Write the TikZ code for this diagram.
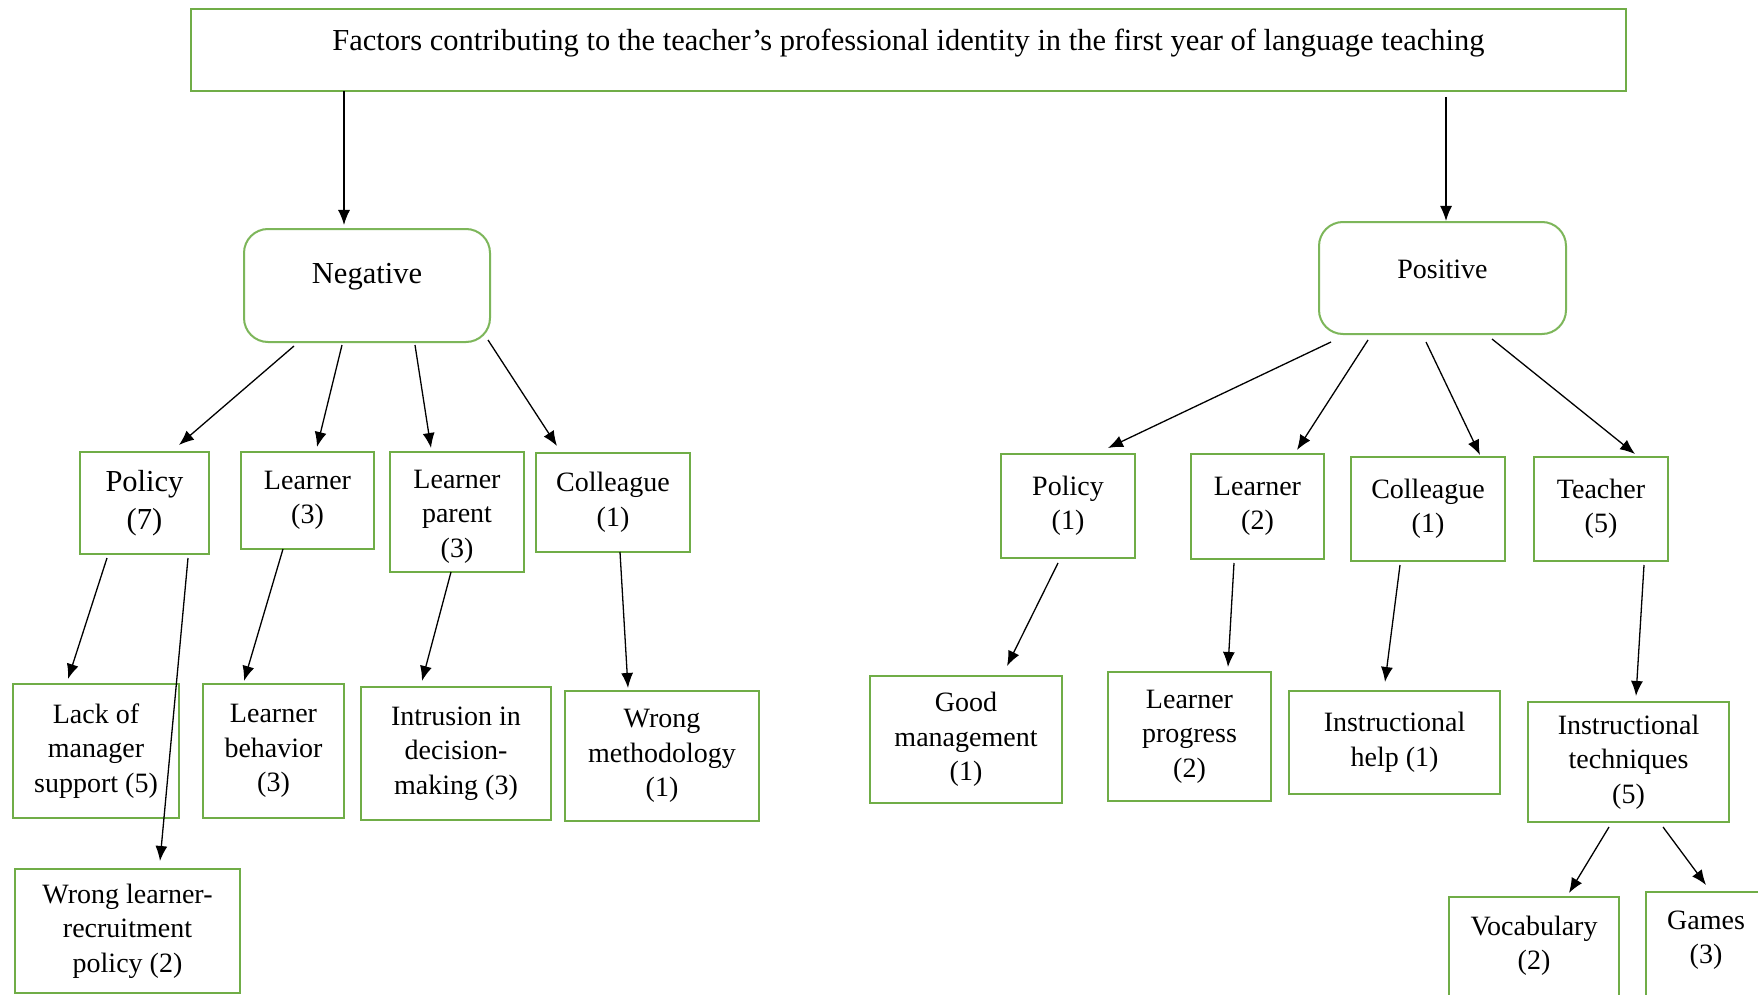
\documentclass[tikz,border=0pt]{standalone}
\usepackage{fontspec}
\setmainfont{Liberation Serif}
\usetikzlibrary{arrows.meta,calc}
\definecolor{boxgreen}{RGB}{112,173,71}
\definecolor{roundgreen}{RGB}{125,182,90}
\newcommand\fsn{\fontsize{28}{34.5}\selectfont}
\newcommand\fsb{\fontsize{30.5}{37.5}\selectfont}
\begin{document}
\begin{tikzpicture}[x=1pt,y=-1pt,
  boxbase/.style={draw=boxgreen,line width=2.8pt,inner sep=0pt,font=\fsn},
  gbox/.style={boxbase,align=center},
  rbox/.style={draw=roundgreen,line width=2pt,rounded corners=24pt,inner sep=0pt},
  arr/.style={-{Latex[length=15pt,width=12pt]},line width=1.3pt},
]
\useasboundingbox (0,0) rectangle (1758,995);
\fill[white] (0,0) rectangle (1758,995);

% top
\node[boxbase,font=\fsb,minimum width=1435pt,minimum height=82pt,text height=20pt,text depth=18pt] (top) at (908.5,50)
  {Factors contributing to the teacher’s professional identity in the first year of language teaching};
\node[rbox,minimum width=246pt,minimum height=113pt,font=\fsb,text height=21pt,text depth=26pt] (neg) at (367,285.5) {Negative};
\node[rbox,minimum width=247pt,minimum height=112pt,font=\fsn,text height=20pt,text depth=20pt] (pos) at (1442.5,278) {Positive};

% negative level 2
\node[gbox,minimum width=129pt,minimum height=102pt,font=\fsb] (npol) at (144.5,503) {Policy\\(7)};
\node[gbox,minimum width=133pt,minimum height=97pt] (nlea) at (307.5,500.5) {Learner\\(3)};
\node[boxbase,minimum width=134pt,minimum height=120pt,text height=20pt,text depth=68pt] (npar) at (457,512)
  {\begin{tabular}[t]{@{}c@{}}Learner\\parent\\(3)\end{tabular}};
\node[gbox,minimum width=154pt,minimum height=99pt] (ncol) at (613,502.5) {Colleague\\(1)};

% negative level 3
\node[gbox,minimum width=166pt,minimum height=134pt] (nlack) at (96,751) {Lack of\\manager\\support (5)};
\node[gbox,minimum width=225pt,minimum height=124pt] (nwrl) at (127.5,931) {Wrong learner-\\recruitment\\policy (2)};
\node[gbox,minimum width=141pt,minimum height=134pt] (nbeh) at (273.5,751) {Learner\\behavior\\(3)};
\node[gbox,minimum width=190pt,minimum height=133pt] (nint) at (456,753.5) {Intrusion in\\decision-\\making (3)};
\node[gbox,minimum width=194pt,minimum height=130pt] (nmeth) at (662,756) {Wrong\\methodology\\(1)};

% positive level 2
\node[gbox,minimum width=134pt,minimum height=104pt] (ppol) at (1068,506) {Policy\\(1)};
\node[gbox,minimum width=133pt,minimum height=105pt] (plea) at (1257.5,506.5) {Learner\\(2)};
\node[gbox,minimum width=154pt,minimum height=104pt] (pcol) at (1428,509) {Colleague\\(1)};
\node[gbox,minimum width=134pt,minimum height=104pt] (ptea) at (1601,509) {Teacher\\(5)};

% positive level 3
\node[gbox,minimum width=192pt,minimum height=127pt] (pgood) at (966,739.5) {Good\\management\\(1)};
\node[gbox,minimum width=163pt,minimum height=129pt] (pprog) at (1189.5,736.5) {Learner\\progress\\(2)};
\node[gbox,minimum width=211pt,minimum height=103pt] (phelp) at (1394.5,742.5) {Instructional\\help (1)};
\node[gbox,minimum width=201pt,minimum height=120pt] (ptech) at (1628.5,762) {Instructional\\techniques\\(5)};
\node[boxbase,minimum width=170pt,minimum height=133pt,text height=20pt,text depth=77pt] (pvoc) at (1534,963.5)
  {\begin{tabular}[t]{@{}c@{}}Vocabulary\\(2)\end{tabular}};
\node[boxbase,minimum width=120pt,minimum height=138pt,text height=20pt,text depth=84pt] (pgam) at (1706,961)
  {\begin{tabular}[t]{@{}c@{}}Games\\(3)\end{tabular}};

% connectors
\draw[arr] ($(top)+(-564.5,41)$) -- ($(neg)+(-23,-60.5)$);
\draw[arr] ($(top)+(537.5,47)$) -- ($(pos)+(3.5,-57)$);

\draw[arr] ($(neg)+(-73,60.5)$) -- ($(npol)+(34.5,-58)$);
\draw[arr] ($(neg)+(-25,59.5)$) -- ($(nlea)+(9.5,-53.5)$);
\draw[arr] ($(neg)+(48,59.5)$) -- ($(npar)+(-26,-64)$);
\draw[arr] ($(neg)+(121,54.5)$) -- ($(ncol)+(-56,-56.5)$);

\draw[arr] ($(npol)+(-37.5,55)$) -- ($(nlack)+(-28,-72)$);
\draw[arr] ($(npol)+(43.5,55)$) -- ($(nwrl)+(32.5,-70)$);
\draw[arr] ($(nlea)+(-24.5,48.5)$) -- ($(nbeh)+(-29.5,-70)$);
\draw[arr] ($(npar)+(-6,60)$) -- ($(nint)+(-34,-72.5)$);
\draw[arr] ($(ncol)+(7,49.5)$) -- ($(nmeth)+(-34,-68)$);

\draw[arr] ($(pos)+(-111.5,64)$) -- ($(ppol)+(40,-58)$);
\draw[arr] ($(pos)+(-74.5,62)$) -- ($(plea)+(39.5,-56.5)$);
\draw[arr] ($(pos)+(-16.5,64)$) -- ($(pcol)+(52,-54)$);
\draw[arr] ($(pos)+(49.5,61)$) -- ($(ptea)+(34,-55)$);

\draw[arr] ($(ppol)+(-10,57)$) -- ($(pgood)+(41,-73.5)$);
\draw[arr] ($(plea)+(-23.5,56.5)$) -- ($(pprog)+(38.5,-69.5)$);
\draw[arr] ($(pcol)+(-28,56)$) -- ($(phelp)+(-9.5,-60.5)$);
\draw[arr] ($(ptea)+(43,56)$) -- ($(ptech)+(7.5,-66)$);
\draw[arr] ($(ptech)+(-19.5,65)$) -- ($(pvoc)+(35,-70.5)$);
\draw[arr] ($(ptech)+(34.5,65)$) -- ($(pgam)+(0,-76)$);
\end{tikzpicture}
\end{document}
